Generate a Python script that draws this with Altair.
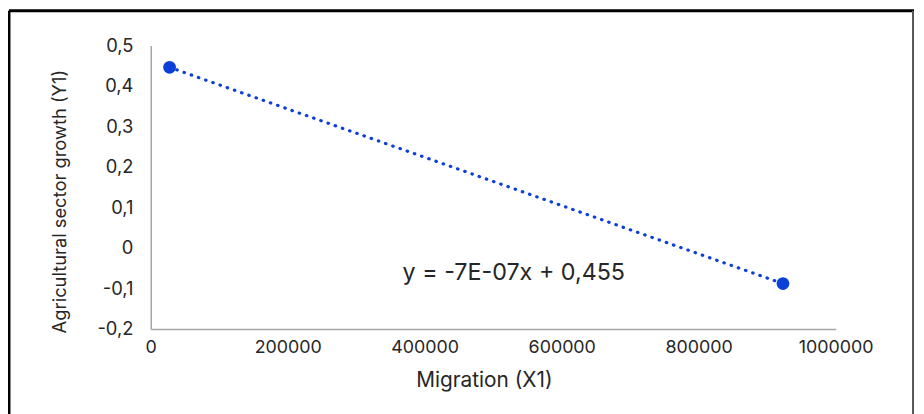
import altair as alt
import pandas as pd

# Data
migration = [27500, 923000]
growth = [0.446, -0.088]
x_ticks = [0, 200000, 400000, 600000, 800000, 1000000]
y_ticks = [-0.2, -0.1, 0.0, 0.1, 0.2, 0.3, 0.4, 0.5]
equation_text = ["y = -7E-07x + 0,455"]
equation_x = [530000]
equation_y = [-0.062]

FONT = "Inter"
BLUE = "#0a3fd8"
TXT = "#262626"

df = pd.DataFrame({"Migration": migration, "Growth": growth})
eq = pd.DataFrame({"t": equation_text, "x": equation_x, "y": equation_y})
frame = pd.DataFrame({"k": [0]})

W, H = 691, 286

xenc = alt.X(
    "Migration:Q",
    scale=alt.Scale(domain=[0, 1000000], nice=False, zero=False),
    axis=alt.Axis(
        values=x_ticks, format="d", grid=False, ticks=False,
        domainColor="#a6a6a6", domainWidth=1.5,
        labelFont=FONT, labelFontSize=18, labelColor=TXT, labelPadding=10,
        labelFlush=False,
        title="Migration (X1)", titleFont=FONT, titleFontSize=21,
        titleFontWeight="normal", titleColor=TXT,
        titleX=336, titleY=52, titleBaseline="middle", titleAlign="center",
    ),
)
yenc = alt.Y(
    "Growth:Q",
    scale=alt.Scale(domain=[-0.2, 0.5], nice=False, zero=False),
    axis=alt.Axis(
        values=y_ticks, grid=False, ticks=False,
        labelExpr="abs(datum.value) < 1e-9 ? '0' : replace(replace(format(datum.value, '.1f'), '.', ','), '\u2212', '-')",
        domainColor="#a6a6a6", domainWidth=1.5,
        labelFont=FONT, labelFontSize=18.5, labelColor=TXT, labelPadding=18,
        labelFlush=False,
        title="Agricultural sector growth (Y1)", titleFont=FONT, titleFontSize=18.5,
        titleFontWeight="normal", titleColor=TXT,
        titleX=-92, titleY=157, titleBaseline="middle", titleAlign="center",
        titleAngle=-90,
    ),
)

line = alt.Chart(df).mark_line(
    color=BLUE, strokeWidth=3.2, strokeDash=[0.5, 7.2], strokeCap="round"
).encode(x=xenc, y=yenc)

points = alt.Chart(df).mark_point(
    filled=True, color=BLUE, size=165, opacity=1
).encode(x="Migration:Q", y="Growth:Q")

text = alt.Chart(eq).mark_text(
    font=FONT, fontSize=23.5, color=TXT, align="center", baseline="middle"
).encode(x="x:Q", y="y:Q", text="t:N")

# decorative outer frame
top_rule = alt.Chart(frame).mark_rule(color="black", strokeWidth=3).encode(
    x=alt.value(-143), x2=alt.value(770), y=alt.value(-35)
)
left_rule = alt.Chart(frame).mark_rule(color="black", strokeWidth=3).encode(
    x=alt.value(-143), y=alt.value(-35), y2=alt.value(375)
)
right_rule = alt.Chart(frame).mark_rule(color="#555555", strokeWidth=2).encode(
    x=alt.value(769), y=alt.value(-35), y2=alt.value(375)
)

chart = alt.layer(line, points, text, top_rule, left_rule, right_rule).properties(
    width=W, height=H,
    autosize=alt.AutoSizeParams(type="none"),
    padding={"left": 144, "top": 36, "right": 81, "bottom": 84},
    background="white",
).configure_view(strokeWidth=0)

chart.save("out.html", embed_options={"renderer": "svg", "actions": False})
